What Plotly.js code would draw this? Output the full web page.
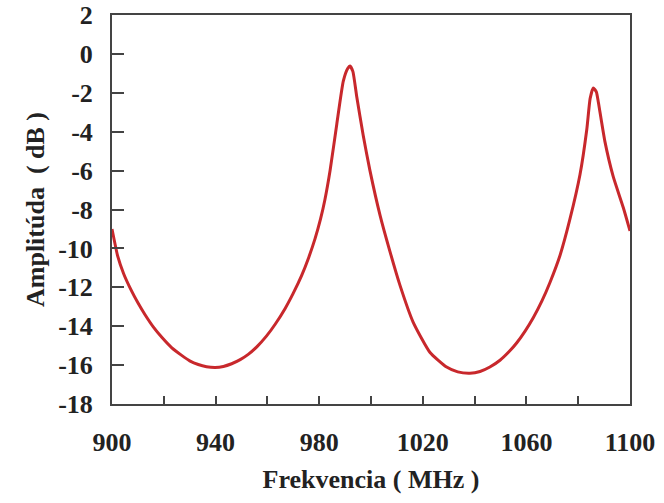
<!DOCTYPE html>
<html>
<head>
<meta charset="utf-8">
<script src="https://cdn.plot.ly/plotly-3.0.1.min.js"></script>
<style>html,body{margin:0;padding:0;background:#fff;}#chart{width:664px;height:503px;}</style>
</head>
<body>
<div id="chart"></div>
<script>
// Frequency (MHz)
const freq = [900, 902.2, 904.5, 907.6, 910, 912.7, 916, 919.4, 923, 926.9, 930, 933.3, 936.5, 939.8, 943, 946.2, 949.5, 952.6, 956, 959.7, 963, 966.8, 970, 973.2, 976, 978.4, 980.5, 982.2, 984.2, 986.8, 989.3, 991, 991.9, 993, 994.5, 997.0, 999.6, 1003.5, 1007.3, 1011.2, 1016.3, 1022.8, 1029.2, 1033.5, 1038.2, 1042.1, 1045.9, 1049.8, 1053.7, 1056.3, 1059.5, 1062.7, 1066, 1069.1, 1073, 1076.8, 1080.7, 1083.3, 1084.6, 1085.8, 1087.0, 1087.8, 1090.3, 1093.5, 1097.4, 1100];
// Amplitude (dB)
const amp = [-9.0, -10.4, -11.3, -12.2, -12.8, -13.4, -14.05, -14.6, -15.1, -15.5, -15.78, -15.97, -16.08, -16.12, -16.07, -15.93, -15.72, -15.45, -15.05, -14.5, -13.9, -13.1, -12.3, -11.4, -10.45, -9.5, -8.5, -7.5, -6.0, -3.6, -1.4, -0.75, -0.62, -0.9, -2.2, -4.2, -6.0, -8.3, -10.15, -11.9, -13.8, -15.35, -16.1, -16.35, -16.42, -16.33, -16.1, -15.75, -15.25, -14.85, -14.25, -13.55, -12.7, -11.75, -10.35, -8.5, -6.2, -3.9, -2.3, -1.75, -1.95, -2.5, -4.5, -6.3, -7.9, -9.1];

const xTickVals = [900, 920, 940, 960, 980, 1000, 1020, 1040, 1060, 1080, 1100];
const xTickText = ['900', '', '940', '', '980', '', '1020', '', '1060', '', '1100'];
const yTickVals = [2, 0, -2, -4, -6, -8, -10, -12, -14, -16, -18];
const yTickText = ['2', '0', '-2', '-4', '-6', '-8', '-10', '-12', '-14', '-16', '-18'];

const font = {family: '"Liberation Serif", "Times New Roman", serif', color: '#222'};

const trace = {
  x: freq, y: amp, type: 'scatter', mode: 'lines',
  line: {color: '#c8282c', width: 3, shape: 'spline', smoothing: 0.5},
  hoverinfo: 'skip'
};

const layout = {
  width: 664, height: 503,
  margin: {l: 112, r: 34, t: 15, b: 99},
  paper_bgcolor: '#fff', plot_bgcolor: '#fff',
  showlegend: false,
  font: Object.assign({size: 26}, font),
  xaxis: {
    range: [900, 1100], tickmode: 'array', tickvals: xTickVals, ticktext: xTickText,
    ticks: 'inside', ticklen: 8, tickwidth: 2, tickcolor: '#444',
    showline: true, linecolor: '#444', linewidth: 2, mirror: true,
    showgrid: false, zeroline: false, ticklabelstandoff: 14,
    tickfont: Object.assign({size: 26, weight: 700}, font),
    title: {text: 'Frekvencia ( MHz )', standoff: 14, font: Object.assign({size: 26, weight: 700}, font)}
  },
  yaxis: {
    range: [-18, 2], tickmode: 'array', tickvals: yTickVals, ticktext: yTickText,
    ticks: 'inside', ticklen: 12, tickwidth: 2, tickcolor: '#444',
    showline: true, linecolor: '#444', linewidth: 2, mirror: true,
    showgrid: false, zeroline: false, ticklabelstandoff: 12,
    tickfont: Object.assign({size: 26, weight: 700}, font),
    title: {text: 'Amplitúda  ( dB )', standoff: 6, font: Object.assign({size: 26, weight: 700}, font)}
  }
};

Plotly.newPlot('chart', [trace], layout, {staticPlot: true, displayModeBar: false});
</script>
</body>
</html>
